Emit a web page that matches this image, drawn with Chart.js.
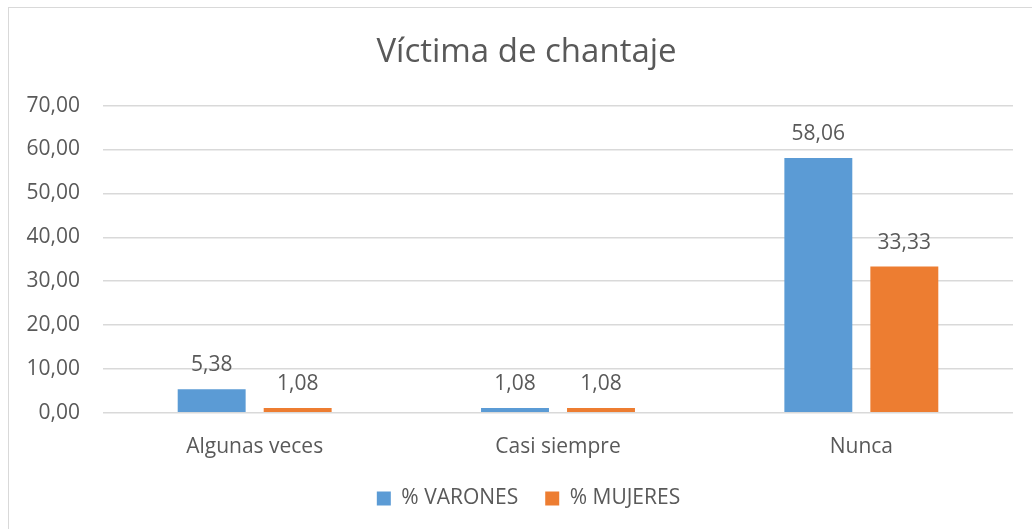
<!DOCTYPE html>
<html>
<head>
<meta charset="utf-8">
<script src="https://cdn.jsdelivr.net/npm/chart.js@4"></script>
<style>
  html, body { margin: 0; padding: 0; background: #fff; overflow: hidden; }
  #frame { position: absolute; left: 8px; top: 7px; width: 1040px; height: 540px; border: 1.5px solid #d9d9d9; }
  #wrap { position: absolute; left: 0; top: 0; width: 1032px; height: 529px; }
</style>
</head>
<body>
<div id="frame"></div>
<div id="wrap"><canvas id="c" width="1032" height="529"></canvas></div>
<script>
const titleText = 'Víctima de chantaje';
const categories = ['Algunas veces', 'Casi siempre', 'Nunca'];
const varones = [5.38, 1.08, 58.06];
const mujeres = [1.08, 1.08, 33.33];
const seriesNames = ['% VARONES', '% MUJERES'];
const yMin = 0, yMax = 70, yStep = 10;

const fmt = v => Number(v).toFixed(2).replace('.', ',');
const FONT = '"Open Sans", sans-serif';
const TEXT = '#595959';

const valueLabels = {
  id: 'valueLabels',
  afterDatasetsDraw(chart) {
    const ctx = chart.ctx;
    ctx.save();
    ctx.font = '21px ' + FONT;
    ctx.fillStyle = TEXT;
    ctx.textAlign = 'center';
    ctx.textBaseline = 'middle';
    chart.data.datasets.forEach((ds, i) => {
      chart.getDatasetMeta(i).data.forEach((el, j) => {
        ctx.fillText(fmt(ds.data[j]), el.x, el.y - 24);
      });
    });
    ctx.restore();
  }
};

const blockTweaks = {
  id: 'blockTweaks',
  beforeLayout(chart) {
    const lg = chart.legend;
    if (lg && !lg._patched) {
      lg._patched = true;
      const origFit = lg.fit;
      lg.fit = function () { origFit.call(this); this.height = 47; };
    }
  },
  afterLayout(chart) {
    const lg = chart.legend;
    if (lg) { lg.top -= 21; lg.bottom -= 21; lg.left += 22; lg.right += 22; }
    const tb = chart.titleBlock;
    if (tb) { tb.left += 20; tb.right += 20; }
  }
};

new Chart(document.getElementById('c'), {
  type: 'bar',
  data: {
    labels: categories,
    datasets: [
      { label: seriesNames[0], data: varones, backgroundColor: '#5B9BD5', categoryPercentage: 0.567, barPercentage: 0.79 },
      { label: seriesNames[1], data: mujeres, backgroundColor: '#ED7D31', categoryPercentage: 0.567, barPercentage: 0.79 }
    ]
  },
  options: {
    responsive: false,
    animation: false,
    devicePixelRatio: 1,
    layout: { padding: { left: 0, right: 19, top: 0, bottom: 0 } },
    plugins: {
      title: {
        display: true, text: titleText, color: TEXT,
        font: { family: FONT, size: 33, weight: 'normal' },
        padding: { top: 33, bottom: 33 }
      },
      legend: {
        display: true, position: 'bottom',
        labels: {
          color: TEXT, font: { family: FONT, size: 21 },
          boxWidth: 14, boxHeight: 14, padding: 27
        }
      },
      tooltip: { enabled: false }
    },
    scales: {
      x: {
        grid: { display: false, drawTicks: false },
        border: { display: false },
        ticks: { color: TEXT, font: { family: FONT, size: 21 }, padding: 22 }
      },
      y: {
        min: yMin, max: yMax,
        afterFit(scale) { scale.width = 103; },
        grid: { color: '#d9d9d9', lineWidth: 1.5, drawTicks: false },
        border: { display: false },
        ticks: { stepSize: yStep, color: TEXT, font: { family: FONT, size: 21 }, padding: 23, callback: v => fmt(v) }
      }
    }
  },
  plugins: [valueLabels, blockTweaks]
});
</script>
</body>
</html>
